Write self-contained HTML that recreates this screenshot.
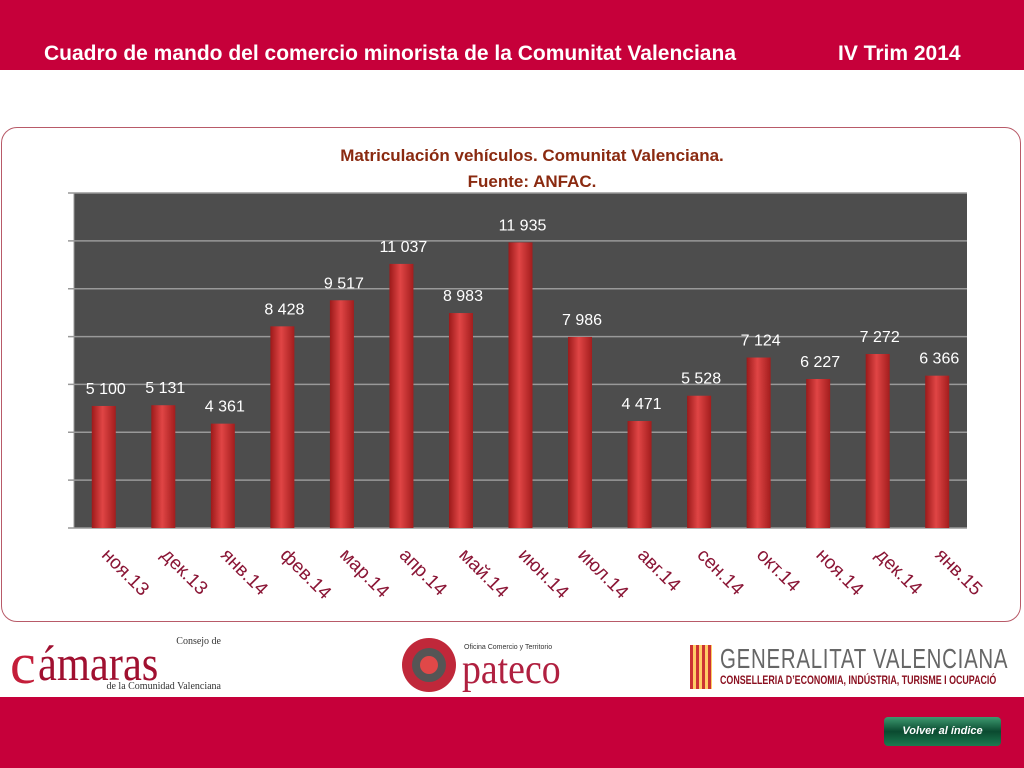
<!DOCTYPE html>
<html><head><meta charset="utf-8"><style>
body{margin:0;width:1024px;height:768px;overflow:hidden;background:#fff;font-family:"Liberation Sans","Noto Sans CJK JP",sans-serif;position:relative}
.top{position:absolute;left:0;top:0;width:1024px;height:70px;background:#C6003A}
.title{position:absolute;top:42px;color:#fff;font-size:21px;font-weight:bold;white-space:nowrap}
.bot{position:absolute;left:0;top:697px;width:1024px;height:71px;background:#C6003A}
.frame{position:absolute;left:1px;top:127px;width:1020px;height:495px;border:1px solid #b85a68;border-radius:16px;box-sizing:border-box}
.nw{white-space:nowrap;transform-origin:0 0}
</style></head><body>
<div class="top"></div>
<div class="title" style="left:44px">Cuadro de mando del comercio minorista de la Comunitat Valenciana</div>
<div class="title" style="left:838px">IV Trim 2014</div>
<div class="frame"></div>
<svg id="chart" width="1024" height="768" style="position:absolute;left:0;top:0">
<defs><linearGradient id="bg" x1="0" x2="1"><stop offset="0" stop-color="#9c1a1a"/><stop offset="0.45" stop-color="#e04545"/><stop offset="1" stop-color="#a31d1d"/></linearGradient></defs>
<text x="532" y="161" text-anchor="middle" font-size="17" font-weight="bold" fill="#8a2a10">Matriculación vehículos. Comunitat Valenciana.</text>
<text x="532" y="187" text-anchor="middle" font-size="17" font-weight="bold" fill="#8a2a10">Fuente: ANFAC.</text>
<g id="g"></g>
</svg>
<div class="bot"></div>
<div style="position:absolute;left:10px;top:636px;width:215px;height:56px">
<div style="position:absolute;left:0;top:0;font-size:58px;line-height:56px;color:#c41e3a;font-family:'Liberation Serif',serif">c</div>
<div class="nw" style="position:absolute;left:28px;top:4px;font-size:50px;line-height:46px;color:#a01030;font-family:'Liberation Serif',serif;transform:scaleX(0.85)">ámaras</div>
<div class="nw" style="position:absolute;right:4px;top:0;font-size:10px;color:#333;font-family:'Liberation Serif',serif">Consejo de</div>
<div class="nw" style="position:absolute;right:4px;top:45px;font-size:10px;color:#333;font-family:'Liberation Serif',serif">de la Comunidad Valenciana</div></div>
<div style="position:absolute;left:402px;top:638px;width:190px;height:55px">
<div style="position:absolute;left:0;top:0;width:54px;height:54px;border-radius:50%;background:#c0283a"></div>
<div style="position:absolute;left:10px;top:10px;width:34px;height:34px;border-radius:50%;background:#555"></div>
<div style="position:absolute;left:18px;top:18px;width:18px;height:18px;border-radius:50%;background:#e04848"></div>
<div class="nw" style="position:absolute;left:62px;top:6px;font-size:7px;color:#333">Oficina Comercio y Territorio</div>
<div class="nw" style="position:absolute;left:60px;top:8px;font-size:42px;color:#b02040;font-family:'Liberation Serif',serif;transform:scaleX(0.9)">pateco</div></div>
<div style="position:absolute;left:690px;top:645px;width:312px;height:46px">
<div style="position:absolute;left:0;top:0;width:22px;height:44px;background:repeating-linear-gradient(90deg,#c33 0 3px,#fc6 3px 6px)"></div>
<div class="nw" style="position:absolute;left:30px;top:-2px;font-size:28px;color:#666;letter-spacing:1px;transform:scaleX(0.73)">GENERALITAT VALENCIANA</div>
<div class="nw" style="position:absolute;left:30px;top:28px;font-size:12px;color:#8a1020;font-weight:bold;transform:scaleX(0.74)">CONSELLERIA D’ECONOMIA, INDÚSTRIA, TURISME I OCUPACIÓ</div></div>
<div style="position:absolute;left:884px;top:717px;width:117px;height:29px;border-radius:4px;background:linear-gradient(#3d9a70,#0a4a30 50%,#1d7a50);color:#fff;font-size:11px;font-weight:bold;font-style:italic;text-align:center;line-height:29px">Volver al índice</div>
<script>
const categories=["ноя.13","дек.13","янв.14","фев.14","мар.14","апр.14","май.14","июн.14","июл.14","авг.14","сен.14","окт.14","ноя.14","дек.14","янв.15"];
const values=[5100,5131,4361,8428,9517,11037,8983,11935,7986,4471,5528,7124,6227,7272,6366];
const valueLabels=["5 100","5 131","4 361","8 428","9 517","11 037","8 983","11 935","7 986","4 471","5 528","7 124","6 227","7 272","6 366"];
const yTicks=[0,2000,4000,6000,8000,10000,12000,14000];
const ns="http://www.w3.org/2000/svg",g=document.getElementById('g');
const L=74,R=967,T=193,B=528,yMax=14000,bw=(R-L)/categories.length;
const y=v=>B-v/yMax*(B-T), x=i=>L+bw*(i+0.5);
function mk(t,a){const e=document.createElementNS(ns,t);for(const k in a)e.setAttribute(k,a[k]);g.appendChild(e);return e;}
let e=mk('rect',{x:L,y:T,width:R-L,height:B-T,fill:'#4d4d4d'});


yTicks.forEach(t=>{let l=mk('line',{x1:L-6,x2:R,y1:y(t),y2:y(t),stroke:'#999','stroke-width':1.5});

});
mk('line',{x1:L,x2:L,y1:T,y2:B,stroke:'#999'});
values.forEach((v,i)=>{
let r=mk('rect',{x:x(i)-12,y:y(v),width:24,height:B-y(v),fill:'url(#bg)'});


let t=mk('text',{x:x(i)+2,y:y(v)-12,'text-anchor':'middle','font-size':16,fill:'#fff'});t.textContent=valueLabels[i];


let c=mk('text',{x:x(i)-3,y:556,'font-size':19,fill:'#8a1535',transform:`rotate(45 ${x(i)-3} 556)`});c.textContent=categories[i];


});
</script>
</body></html>
